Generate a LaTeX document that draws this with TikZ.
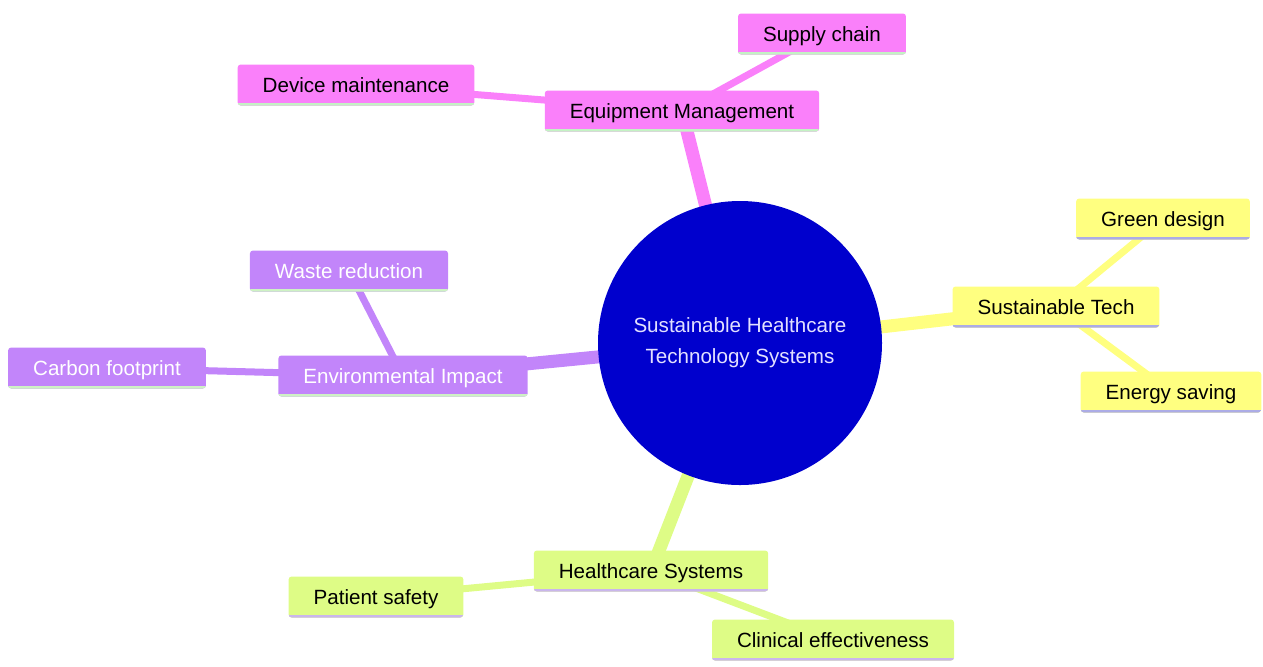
\documentclass[tikz,border=0pt]{standalone}
\usepackage{fontspec}
\setmainfont{Liberation Sans}
\usetikzlibrary{backgrounds}
\definecolor{root_blue}		{RGB}{0,0,205}
\definecolor{pale_lilac}	{RGB}{226,224,255}
\definecolor{pink_fill}		{RGB}{250,128,250}
\definecolor{pink_line}		{RGB}{196,242,196}
\definecolor{violet_fill}	{RGB}{194,133,250}
\definecolor{violet_line}	{RGB}{206,242,196}
\definecolor{yellow_fill}	{RGB}{255,255,128}
\definecolor{yellow_line}	{RGB}{172,172,230}
\definecolor{green_fill}	{RGB}{222,252,134}
\definecolor{green_line}	{RGB}{202,182,236}

\begin{document}
\begin{tikzpicture}[x = 0.5pt, y = -0.5pt,
		box/.style      = {rectangle,
			rounded corners = 1.5pt,
			inner xsep     = 12.5pt,
			inner ysep     = 0pt,
			minimum height = 20.5pt,
			text height    = 8pt,
			text depth     = 0.6pt,
			font = \fontsize{10.3}{15.5}\selectfont,
			path picture = {\draw[line width = 3pt, #1]
				(path picture bounding box.south west) --
				(path picture bounding box.south east);}},
		boxP/.style     = {box = pink_line, fill = pink_fill, text = black},
		boxV/.style     = {box = violet_line, fill = violet_fill, text = white},
		boxY/.style     = {box = yellow_line, fill = yellow_fill, text = black},
		boxG/.style     = {box = green_line, fill = green_fill, text = black},
		rootC/.style    = {circle,
			fill           = root_blue,
			minimum size   = 142pt,
			align          = center,
			text           = pale_lilac,
			font = \fontsize{10.3}{15.5}\selectfont},
		trunk/.style    = {line width = 6.5pt},
		twig/.style     = {line width = 3.5pt}]
		
		\useasboundingbox (0,0) rectangle (1263,666);
		
		\node[rootC] (Root) at (740,343)
		{Sustainable Healthcare \\ Technology Systems};
		
		\node[boxP] (Equip)  at (682,111) {Equipment Management};
		\node[boxP] (Supply) at (822,34)  {Supply chain};
		\node[boxP] (Maint)  at (356,85)  {Device maintenance};
		
		\node[boxY] (Tech)   at (1056,307) {Sustainable Tech};
		\node[boxY] (Green)  at (1163,219) {Green design};
		\node[boxY] (Energy) at (1171,392) {Energy saving};
		
		\node[boxV] (Env)    at (403,376) {Environmental Impact};
		\node[boxV] (Waste)  at (349,271) {Waste reduction};
		\node[boxV] (Carbon) at (107,368) {Carbon footprint};
		
		\node[boxG] (Health) at (651,571) {Healthcare Systems};
		\node[boxG] (Safety) at (376,597) {Patient safety};
		\node[boxG] (Clinic) at (833,640) {Clinical effectiveness};
		
		% links sit behind the boxes
		\begin{scope}[on background layer]
			\draw[trunk, pink_fill]   (Root.center) -- (Equip.center);
			\draw[twig,  pink_fill]   (Equip.center) -- (Supply.center);
			\draw[twig,  pink_fill]   (Equip.center) -- (Maint.center);
			
			\draw[trunk, yellow_fill] (Root.center) -- (Tech.center);
			\draw[twig,  yellow_fill] (Tech.center) -- (Green.center);
			\draw[twig,  yellow_fill] (Tech.center) -- (Energy.center);
			
			\draw[trunk, violet_fill] (Root.center) -- (Env.center);
			\draw[twig,  violet_fill] (Env.center) -- (Waste.center);
			\draw[twig,  violet_fill] (Env.center) -- (Carbon.center);
			
			\draw[trunk, green_fill]  (Root.center) -- (Health.center);
			\draw[twig,  green_fill]  (Health.center) -- (Safety.center);
			\draw[twig,  green_fill]  (Health.center) -- (Clinic.center);
		\end{scope}
		
	\end{tikzpicture}
\end{document}
